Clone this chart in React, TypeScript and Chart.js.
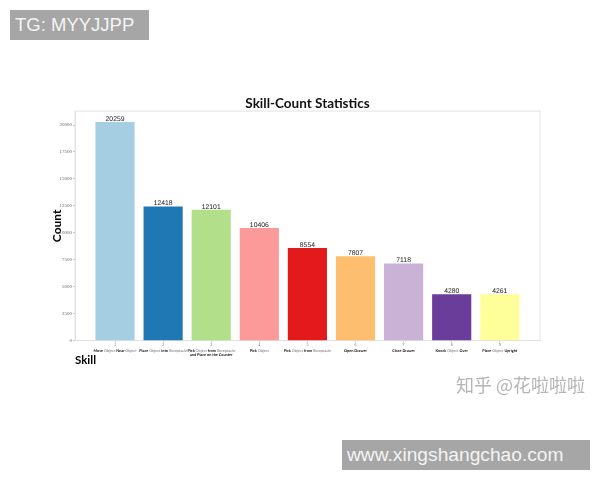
import React, { useEffect, useRef } from "react";
import { Chart, registerables } from "chart.js";

Chart.register(...registerables);

const skillIds = [1, 2, 3, 4, 5, 6, 7, 8, 9];
const counts = [20259, 12418, 12101, 10406, 8554, 7807, 7118, 4280, 4261];
const countTicks = [0, 2500, 5000, 7500, 10000, 12500, 15000, 17500, 20000];
const barColors = ["#a6cee3", "#1f78b4", "#b2df8a", "#fb9a99", "#e31a1c", "#fdbf6f", "#cab2d6", "#6a3d9a", "#ffff99"];
// one entry per bar, "|" starts a second line
const skillLabels = [
	"Move Object Near Object",
	"Place Object into Receptacle",
	"Pick Object from Receptacle|and Place on the Counter",
	"Pick Object",
	"Pick Object from Receptacle",
	"Open Drawer",
	"Close Drawer",
	"Knock Object Over",
	"Place Object Upright",
];
// these words are printed light, everything else in the labels is bold
const lightWords = ["Object", "Receptacle"];

const labelFont = "Lato";

const barExtras = {
	id: "barExtras",
	beforeDraw(chart: any) {
		const { ctx, chartArea } = chart;
		ctx.save();
		ctx.strokeStyle = "#e2e2e2";
		ctx.lineWidth = 1;
		ctx.strokeRect(chartArea.left, chartArea.top, chartArea.width, chartArea.height);
		ctx.restore();
	},
	afterDraw(chart: any) {
		const { ctx, scales } = chart;
		ctx.save();
		ctx.textBaseline = "middle";
		// tiny text, hinted widths come out too wide without this
		ctx.textRendering = "geometricPrecision";

		// value on top of each bar
		ctx.font = "6.8px Liberation Sans";
		ctx.fillStyle = "#222222";
		ctx.textAlign = "center";
		counts.forEach((v, i) => {
			ctx.fillText(String(v), scales.x.getPixelForValue(skillIds[i]), scales.y.getPixelForValue(v) - 3.5);
		});

		// skill names under the axis, bold and light words mixed
		ctx.textAlign = "left";
		const bold = `bold 3.8px ${labelFont}`;
		const light = `3.8px ${labelFont}`;
		skillLabels.forEach((label, i) => {
			const cx = scales.x.getPixelForValue(skillIds[i]);
			label.split("|").forEach((line, row) => {
				const words = line.split(" ").map((w, k, all) => (k < all.length - 1 ? w + " " : w));
				const fontOf = (w: string) => (lightWords.includes(w.trim()) ? light : bold);
				const total = words.reduce((sum, w) => {
					ctx.font = fontOf(w);
					return sum + ctx.measureText(w).width;
				}, 0);
				let x = cx - total / 2;
				words.forEach((w) => {
					ctx.font = fontOf(w);
					ctx.fillStyle = lightWords.includes(w.trim()) ? "#777777" : "#111111";
					ctx.fillText(w, x, 351 + row * 4.2);
					x += ctx.measureText(w).width;
				});
			});
		});
		ctx.restore();
	},
};

const App: React.FC = () => {
	const chartRef = useRef<HTMLCanvasElement>(null);

	useEffect(() => {
		if (!chartRef.current) return;
		const chart = new Chart(chartRef.current, {
			type: "bar",
			data: {
				datasets: [
					{
						data: skillIds.map((id, i) => ({ x: id, y: counts[i] })),
						backgroundColor: barColors,
						barThickness: 38.5,
					},
				],
			},
			plugins: [barExtras],
			options: {
				animation: false,
				responsive: false,
				devicePixelRatio: 1,
				layout: { padding: { left: 50, right: 60, top: 97, bottom: 100 } },
				plugins: {
					legend: { display: false },
					tooltip: { enabled: false },
					title: {
						display: true,
						text: "Skill-Count Statistics",
						fullSize: false,
						color: "#111111",
						font: { family: labelFont, size: 13.5, weight: "bold", lineHeight: 1.04 },
						padding: { top: 0, bottom: 0 },
					},
				},
				scales: {
					x: {
						type: "linear",
						offset: false,
						min: 0.168,
						max: 9.836,
						afterFit: (scale: any) => {
							scale.height = 39.4;
						},
						grid: { offset: false, drawOnChartArea: false, tickLength: 2, color: "#cccccc" },
						border: { color: "#e2e2e2" },
						afterBuildTicks: (scale: any) => {
							scale.ticks = skillIds.map((value) => ({ value }));
						},
						ticks: {
							color: "#666666",
							padding: 0,
							maxRotation: 0,
							font: { family: "Liberation Serif", size: 4 },
						},
						title: {
							display: true,
							text: "Skill",
							align: "start",
							color: "#000000",
							font: { family: labelFont, size: 11.5, weight: "bold" },
							padding: { top: 0, bottom: 13 },
						},
					},
					y: {
						min: 0,
						max: 21300,
						afterFit: (scale: any) => {
							scale.width = 25;
						},
						grid: { drawOnChartArea: false, tickLength: 2, color: "#cccccc" },
						border: { color: "#e2e2e2" },
						afterBuildTicks: (scale: any) => {
							scale.ticks = countTicks.map((value) => ({ value }));
						},
						ticks: {
							color: "#666666",
							padding: 1,
							font: { family: "Liberation Serif", size: 5 },
							callback: (value: any) => String(value),
						},
						title: {
							display: true,
							text: "Count",
							color: "#000000",
							font: { family: labelFont, size: 12, weight: "bold" },
							padding: 0,
						},
					},
				},
			},
		} as any);
		return () => chart.destroy();
	}, []);

	const badge: React.CSSProperties = {
		position: "absolute",
		height: 30,
		lineHeight: "30px",
		background: "#a6a6a6",
		color: "#f4f4f4",
		fontFamily: "Liberation Sans",
		boxSizing: "border-box",
		whiteSpace: "nowrap",
	};

	return (
		<div style={{ position: "fixed", left: 0, top: 0, width: 600, height: 480, background: "#fff", overflow: "hidden" }}>
			<canvas ref={chartRef} width={600} height={480} style={{ display: "block" }}></canvas>
			<div style={{ ...badge, left: 10, top: 10, width: 139, paddingLeft: 5, fontSize: 18.5 }}>TG: MYYJJPP</div>
			<div style={{ ...badge, left: 342, top: 440, width: 248, paddingLeft: 5, fontSize: 19.2 }}>www.xingshangchao.com</div>
			<div
				style={{
					position: "absolute",
					left: 456,
					top: 373,
					fontFamily: "Noto Sans CJK SC",
					fontSize: 18,
					lineHeight: "22px",
					color: "#b5b5b5",
					whiteSpace: "nowrap",
				}}
			>
				知乎 @花啦啦啦
			</div>
		</div>
	);
};

export default App;
